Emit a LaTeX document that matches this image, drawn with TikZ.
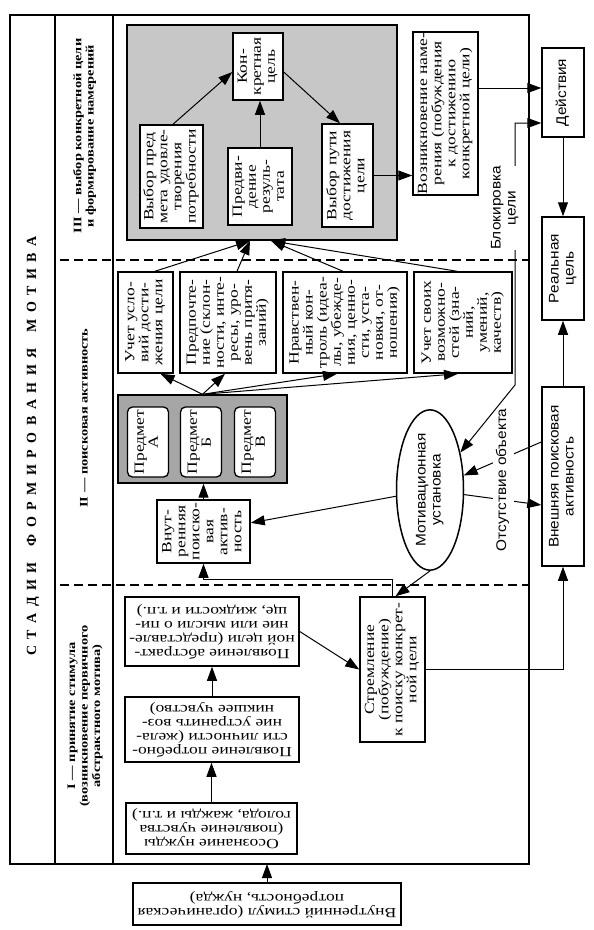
\documentclass[tikz,border=0pt]{standalone}
\usepackage{fontspec}
\setmainfont{Liberation Serif}[FakeStretch=1.25]
\newfontfamily\sansf{Liberation Sans}[FakeStretch=1.1]
\newfontfamily\titlef{Liberation Serif}
\usepackage{graphicx}
\usetikzlibrary{arrows.meta,shapes.geometric}

\newcommand\vtxt[1]{\rotatebox{90}{\begin{tabular}{@{}c@{}}#1\end{tabular}}}
\newcommand\utxt[1]{\rotatebox{180}{\begin{tabular}{@{}c@{}}#1\end{tabular}}}

\tikzset{
	box/.style={draw,line width=1.5pt,fill=white,inner sep=1pt,font=\fontsize{14}{14}\selectfont},
	sbox/.style={box,font=\sansf\fontsize{14}{15}\selectfont},
	obj/.style={box,rounded corners=5pt,line width=1.3pt,minimum width=41pt,minimum height=70pt},
	zone/.style={draw,line width=1.6pt,fill=black!22},
	lab/.style={font=\fontsize{11.5}{12.5}\selectfont\bfseries},
	note/.style={fill=white,inner xsep=3pt,inner ysep=0pt,font=\sansf\fontsize{14}{15}\selectfont},
	arr/.style={-{Triangle[length=14pt,width=10pt]},line width=1pt},
	arrs/.style={{Triangle[length=14pt,width=10pt]}-{Triangle[length=14pt,width=10pt]},line width=1pt},
	frame/.style={line width=1.9pt},
	sep/.style={line width=1.1pt,dash pattern=on 9pt off 5pt},
}

\begin{document}
\begin{tikzpicture}[x=1pt,y=-1pt]
	\useasboundingbox (0,0) rectangle (594,930);
	\draw[frame] (10,15) rectangle (529,864);
	\draw[frame] (55,15) -- (55,864) (113,15) -- (113,864);
	\draw[sep] (60,260) -- (529,260) (60,585) -- (529,585);

	\node[font=\titlef\fontsize{14}{14}\selectfont\bfseries] (T) at (33,446)
		{\rotatebox{90}{\spaceskip=6.5pt С Т А Д И И\hspace{16pt}Ф О Р М И Р О В А Н И Я\hspace{16pt}М О Т И В А}};
	\node[lab] (L3) at (85,136) {\vtxt{III — выбор конкретной цели\\и формирование намерений}};
	\node[lab] (L2) at (85,418) {\vtxt{II — поисковая активность}};
	\node[lab] (L1) at (85,716) {\vtxt{I — принятие стимула\\(возникновение первичного\\абстрактного мотива)}};

	\node[zone,minimum width=270pt,minimum height=215pt] (Z) at (262,132.5) {};
	\node[box,minimum width=50pt,minimum height=67pt] (KC) at (258,66.5) {\vtxt{Кон-\\кретная\\цель}};
	\node[box,minimum width=63pt,minimum height=103pt] (VP) at (171.5,176.5) {\vtxt{Выбор пред\\мета удовле-\\творения\\потребности}};
	\node[box,minimum width=64pt,minimum height=77pt] (PR) at (260,186.5) {\vtxt{Предви-\\дение\\резуль-\\тата}};
	\node[box,minimum width=51pt,minimum height=103pt] (VW) at (347.5,175.5) {\vtxt{Выбор пути\\достижения\\цели}};
	\node[box,minimum width=65pt,minimum height=163pt] (VN) at (445.5,113.5) {\vtxt{Возникновение наме-\\рения (побуждения\\к достижению\\конкретной цели)}};
	\node[sbox,minimum width=42pt,minimum height=89pt] (D) at (563,92.5) {\vtxt{Действия}};
	\node[sbox,minimum width=42pt,minimum height=103pt] (R) at (563,268.5) {\vtxt{Реальная\\цель}};
	\node[sbox,minimum width=42pt,minimum height=179pt] (E) at (563,476.5) {\vtxt{Внешняя поисковая\\активность}};

	\node[box,minimum width=55pt,minimum height=101pt] (U1) at (145.5,322.5) {\vtxt{Учет усло-\\вий дости-\\жения цели}};
	\node[box,minimum width=96pt,minimum height=101pt] (U2) at (228,322.5) {\vtxt{Предпочте-\\ние (склон-\\ности, инте-\\ресы, уро-\\вень притя-\\заний)}};
	\node[box,minimum width=124pt,minimum height=101pt] (U3) at (345,322.5) {\vtxt{Нравствен-\\ный кон-\\троль (идеа-\\лы, убежде-\\ния, ценно-\\сти, уста-\\новки, от-\\ношения)}};
	\node[box,minimum width=98pt,minimum height=101pt] (U4) at (463,322.5) {\vtxt{Учет своих\\возможно-\\стей (зна-\\ний,\\умений,\\качеств)}};

	\node[zone,fill=black!35,line width=1.4pt,minimum width=169pt,minimum height=88pt] (G) at (202.5,439) {};
	\node[obj] (PA) at (148,442) {\vtxt{Предмет\\А}};
	\node[obj] (PB) at (201,442) {\vtxt{Предмет\\Б}};
	\node[obj] (PV) at (255,442) {\vtxt{Предмет\\В}};
	\node[box,minimum width=93pt,minimum height=63pt] (VA) at (203.5,531.5) {\vtxt{Внут-\\ренняя\\поиско-\\вая\\актив-\\ность}};
	\node[sbox,ellipse,minimum width=67pt,minimum height=146pt,inner sep=0pt] (M) at (430,490) {\vtxt{Мотивационная\\установка}};

	\node[box,minimum width=65pt,minimum height=145pt] (S) at (392.5,669.5) {\vtxt{Стремление\\(побуждение)\\к поиску конкрет-\\ной цели}};
	\node[box,minimum width=174pt,minimum height=69pt] (AB) at (212,631.5) {\utxt{Появление абстракт-\\ной цели (представле-\\ние или мысли о пи-\\ще, жидкости и т.п.)}};
	\node[box,minimum width=174pt,minimum height=65pt] (PT) at (212,729.5) {\utxt{Появление потребно-\\сти личности (жела-\\ние устранить воз-\\никшее чувство)}};
	\node[box,minimum width=171pt,minimum height=51pt] (OS) at (211.5,828.5) {\utxt{Осознание нужды\\(появление чувства\\голода, жажды и т.п.)}};
	\node[box,minimum width=268pt,minimum height=42pt] (ST) at (267,904) {\utxt{Внутренний стимул (органическая\\потребность, нужда)}};

	\coordinate (z1) at ([xshift=-12pt]Z.south);
	\coordinate (z2) at ([xshift=9pt]Z.south);
	\coordinate (a1) at ([yshift=4.5pt]D.west);
	\coordinate (a2) at ([yshift=-30.5pt]D.west);
	\coordinate (b1) at (515,385);
	\coordinate (c1) at ([yshift=34.5pt]E.west);
	\coordinate (c2) at ([yshift=-28.5pt]E.west);
	\coordinate (s1) at ([yshift=17pt]S.north);
	\coordinate (fb) at (267,864);

	\draw[arr] ([xshift=1.5pt]VP.north) -- ([yshift=-5.5pt]KC.west);
	\draw[arr] (PR.north) -- (PR.north |- KC.south);
	\draw[arr] ([yshift=-5.5pt]KC.east) -- ([xshift=-7.5pt]VW.north);
	\draw[arr] (VW.east) -- (VW.east -| VN.west);
	\draw[arr] (VN.east |- a1) -- (a1);
	\draw[arr] (D.south) -- (R.north);
	\draw[arr] (E.north) -- (R.south);

	\draw[arr] ([xshift=9.5pt]U1.north) -- (z1);
	\draw[arr] ([xshift=9pt]U2.north) -- (z1);
	\draw[arr] ([xshift=-2pt]U3.north) -- (z2);
	\draw[arr] ([xshift=-6pt]U4.north) -- (z2);
	\draw[arr] (G.north) -- ([xshift=15pt]U1.south);
	\draw[arr] (G.north) -- ([xshift=-3pt]U2.south);
	\draw[arr] (G.north) -- ([xshift=-8pt]U3.south);
	\draw[arr] (G.north) -- ([xshift=-5pt]U4.south);
	\draw[arr] (VA.north) -- (VA.north |- G.south);
	\draw[arr] (M) -- (VA);
	\draw[arr] (M.south) -- ([xshift=3pt]S.north);
	\draw[arr] (S.north) -- (s1) -| (VA.south);
	\draw[arr] (S.east) -| (E.south);

	\draw[arr] (AB.east) -- (S.west);
	\draw[arr] (PT.north) -- (AB.south);
	\draw[arr] (OS.north) -- (OS.north |- PT.south);
	\draw[arr] (ST.north) -- (fb);

	\draw[arr] (c1) -- (M);
	\draw[arr] (M) -- (c2);
	\node[note] (OO) at (503,480) {\vtxt{Отсутствие объекта}};
	\draw[arrs] (M) -- (b1) -- (b1 |- a2) -- (a2);
	\node[note] (BL) at (505,208) {\vtxt{Блокировка\\цели}};
\end{tikzpicture}
\end{document}
